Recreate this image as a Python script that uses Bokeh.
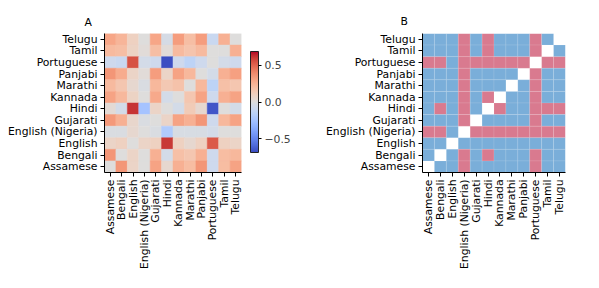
import math
from bokeh.plotting import figure
from bokeh.layouts import row
from bokeh.models import (ColumnDataSource, LinearColorMapper, ColorBar, FixedTicker,
                          CustomJSTickFormatter, Title, FactorRange)
from bokeh.embed import file_html
from bokeh.resources import INLINE

langs = ["Assamese", "Bengali", "English", "English (Nigeria)", "Gujarati", "Hindi",
         "Kannada", "Marathi", "Panjabi", "Portuguese", "Tamil", "Telugu"]

# Panel A: correlation values, one list per row (columns in `langs` order)
corr_telugu     = [0.30, 0.24, 0.10, 0.00, 0.30, -0.04, 0.33, 0.20, 0.33, -0.10, 0.26, 0.00]
corr_tamil      = [0.22, 0.20, 0.09, 0.02, 0.20, 0.02, 0.22, 0.17, 0.22, 0.00, 0.00, 0.26]
corr_portuguese = [-0.08, -0.10, 0.55, -0.05, -0.08, -0.68, -0.08, -0.15, -0.08, 0.00, -0.05, -0.08]
corr_panjabi    = [0.36, 0.28, 0.08, 0.02, 0.33, 0.08, 0.31, 0.23, 0.00, -0.05, 0.26, 0.32]
corr_marathi    = [0.22, 0.16, 0.05, -0.02, 0.23, 0.15, 0.18, 0.00, 0.23, -0.15, 0.19, 0.16]
corr_kannada    = [0.31, 0.23, 0.09, 0.00, 0.29, -0.05, 0.00, 0.16, 0.31, -0.08, 0.26, 0.31]
corr_hindi      = [0.03, -0.05, 0.62, -0.25, 0.08, 0.00, -0.05, 0.13, 0.05, -0.66, 0.00, -0.05]
corr_gujarati   = [0.35, 0.26, 0.06, -0.02, 0.00, 0.08, 0.31, 0.26, 0.36, -0.08, 0.23, 0.31]
corr_en_nigeria = [-0.02, -0.02, 0.05, 0.00, -0.02, -0.20, -0.03, -0.03, -0.03, -0.05, 0.00, 0.00]
corr_english    = [0.08, 0.10, 0.00, 0.08, 0.10, 0.61, 0.10, 0.05, 0.10, 0.53, 0.10, 0.08]
corr_bengali    = [0.36, 0.00, 0.08, 0.00, 0.26, -0.05, 0.19, 0.16, 0.26, -0.08, 0.21, 0.23]
corr_assamese   = [0.00, 0.36, 0.08, 0.00, 0.31, 0.05, 0.26, 0.21, 0.36, -0.08, 0.21, 0.31]

corr_rows = {
    "Telugu": corr_telugu, "Tamil": corr_tamil, "Portuguese": corr_portuguese,
    "Panjabi": corr_panjabi, "Marathi": corr_marathi, "Kannada": corr_kannada,
    "Hindi": corr_hindi, "Gujarati": corr_gujarati, "English (Nigeria)": corr_en_nigeria,
    "English": corr_english, "Bengali": corr_bengali, "Assamese": corr_assamese,
}

# Panel B: binary matrix (1 = pink, 0 = blue, None = diagonal)
sig_telugu     = [0, 0, 0, 1, 0, 1, 0, 0, 0, 1, 0, None]
sig_tamil      = [0, 0, 0, 1, 0, 1, 0, 0, 0, 1, None, 0]
sig_portuguese = [1, 1, 0, 1, 1, 1, 1, 1, 1, None, 1, 1]
sig_panjabi    = [0, 0, 0, 1, 0, 0, 0, 0, None, 1, 0, 0]
sig_marathi    = [0, 0, 0, 1, 0, 0, 0, None, 0, 1, 0, 0]
sig_kannada    = [0, 0, 0, 1, 0, 1, None, 0, 0, 1, 0, 0]
sig_hindi      = [0, 1, 0, 1, 0, None, 1, 0, 0, 1, 1, 1]
sig_gujarati   = [0, 0, 0, 1, None, 0, 0, 0, 0, 1, 0, 0]
sig_en_nigeria = [1, 1, 0, None, 1, 1, 1, 1, 1, 1, 1, 1]
sig_english    = [0, 0, None, 0, 0, 0, 0, 0, 0, 0, 0, 0]
sig_bengali    = [0, None, 0, 1, 0, 1, 0, 0, 0, 1, 0, 0]
sig_assamese   = [None, 0, 0, 1, 0, 0, 0, 0, 0, 1, 0, 0]

sig_rows = {
    "Telugu": sig_telugu, "Tamil": sig_tamil, "Portuguese": sig_portuguese,
    "Panjabi": sig_panjabi, "Marathi": sig_marathi, "Kannada": sig_kannada,
    "Hindi": sig_hindi, "Gujarati": sig_gujarati, "English (Nigeria)": sig_en_nigeria,
    "English": sig_english, "Bengali": sig_bengali, "Assamese": sig_assamese,
}

# coolwarm colormap (Moreland anchor table), interpolated to 256 colours
_cw = [(59,76,192),(68,90,204),(77,104,215),(87,117,225),(98,130,234),(108,142,241),
       (119,154,247),(130,165,251),(141,176,254),(152,185,255),(163,194,255),(174,201,253),
       (184,208,249),(194,213,244),(204,217,238),(213,219,230),(221,221,221),(229,216,209),
       (236,211,197),(241,204,184),(245,196,172),(247,187,160),(247,177,148),(247,166,135),
       (244,154,123),(241,141,111),(236,127,99),(229,112,88),(222,96,77),(213,80,66),
       (203,62,56),(192,40,47),(180,4,38)]
coolwarm = []
for i in range(256):
    t = i / 255 * (len(_cw) - 1)
    k = min(int(t), len(_cw) - 2)
    f = t - k
    c = [round(_cw[k][j] + (_cw[k + 1][j] - _cw[k][j]) * f) for j in range(3)]
    coolwarm.append("#%02x%02x%02x" % tuple(c))

FONT = "DejaVu Sans"
FS = "10.8px"


def style_axes(p):
    p.grid.visible = False
    p.outline_line_color = None
    for ax in (p.xaxis[0], p.yaxis[0]):
        ax.axis_line_color = "black"
        ax.axis_line_width = 1
        ax.major_tick_line_color = "black"
        ax.major_tick_in = 0
        ax.major_tick_out = 4
        ax.minor_tick_line_color = None
        ax.major_label_text_font = FONT
        ax.major_label_text_font_size = FS
        ax.major_label_text_color = "black"
        ax.major_label_standoff = 3
    p.xaxis.major_label_orientation = math.pi / 2


def panel_title(text, offset, standoff):
    return Title(text=text, align="left", offset=offset, standoff=standoff,
                 text_font=FONT, text_font_size=FS, text_font_style="normal",
                 text_color="black")


# ---------- Panel A ----------
xs, ys, vs = [], [], []
for rname, vals in corr_rows.items():
    for cname, v in zip(langs, vals):
        xs.append(cname); ys.append(rname); vs.append(v)
srcA = ColumnDataSource(dict(x=xs, y=ys, v=vs))

pA = figure(width=292, height=272, x_range=FactorRange(*langs), y_range=FactorRange(*langs),
            output_backend="svg", toolbar_location=None, title=panel_title("A", -20, 9),
            min_border_left=104, min_border_right=51, min_border_top=33, min_border_bottom=100)
mapper = LinearColorMapper(palette=coolwarm, low=-0.69, high=0.69)
pA.rect(x="x", y="y", width=1, height=1, source=srcA,
        fill_color={"field": "v", "transform": mapper},
        line_color={"field": "v", "transform": mapper}, line_width=0.5)
style_axes(pA)

cb = ColorBar(color_mapper=mapper, location=(146, 20), width=8, height=101, padding=0,
              ticker=FixedTicker(ticks=[-0.5, 0.0, 0.5]),
              formatter=CustomJSTickFormatter(code="return tick < 0 ? '\u2212' + Math.abs(tick).toFixed(1) : tick.toFixed(1);"),
              major_label_text_font=FONT, major_label_text_font_size=FS,
              major_tick_line_color="black", major_tick_in=0, major_tick_out=3,
              bar_line_color="#222222", bar_line_width=1, label_standoff=3,
              background_fill_alpha=0, border_line_color=None)
pA.add_layout(cb, "center")

# ---------- Panel B ----------
bx, by, bc = [], [], []
for rname, vals in sig_rows.items():
    for cname, v in zip(langs, vals):
        if v is None:
            continue
        bx.append(cname); by.append(rname)
        bc.append("#d97a8f" if v == 1 else "#7aaed9")
srcB = ColumnDataSource(dict(x=bx, y=by, c=bc))

pB = figure(width=290, height=272, x_range=FactorRange(*langs), y_range=FactorRange(*langs),
            output_backend="svg", toolbar_location=None, title=panel_title("B", -22, 12),
            min_border_left=130, min_border_right=17, min_border_top=29, min_border_bottom=100)
pB.rect(x="x", y="y", width=1, height=1, source=srcB, fill_color="c",
        line_color="white", line_alpha=0.2, line_width=0.5)
style_axes(pB)

layout = row(pA, pB)
open("out.html", "w").write(file_html(layout, INLINE))
